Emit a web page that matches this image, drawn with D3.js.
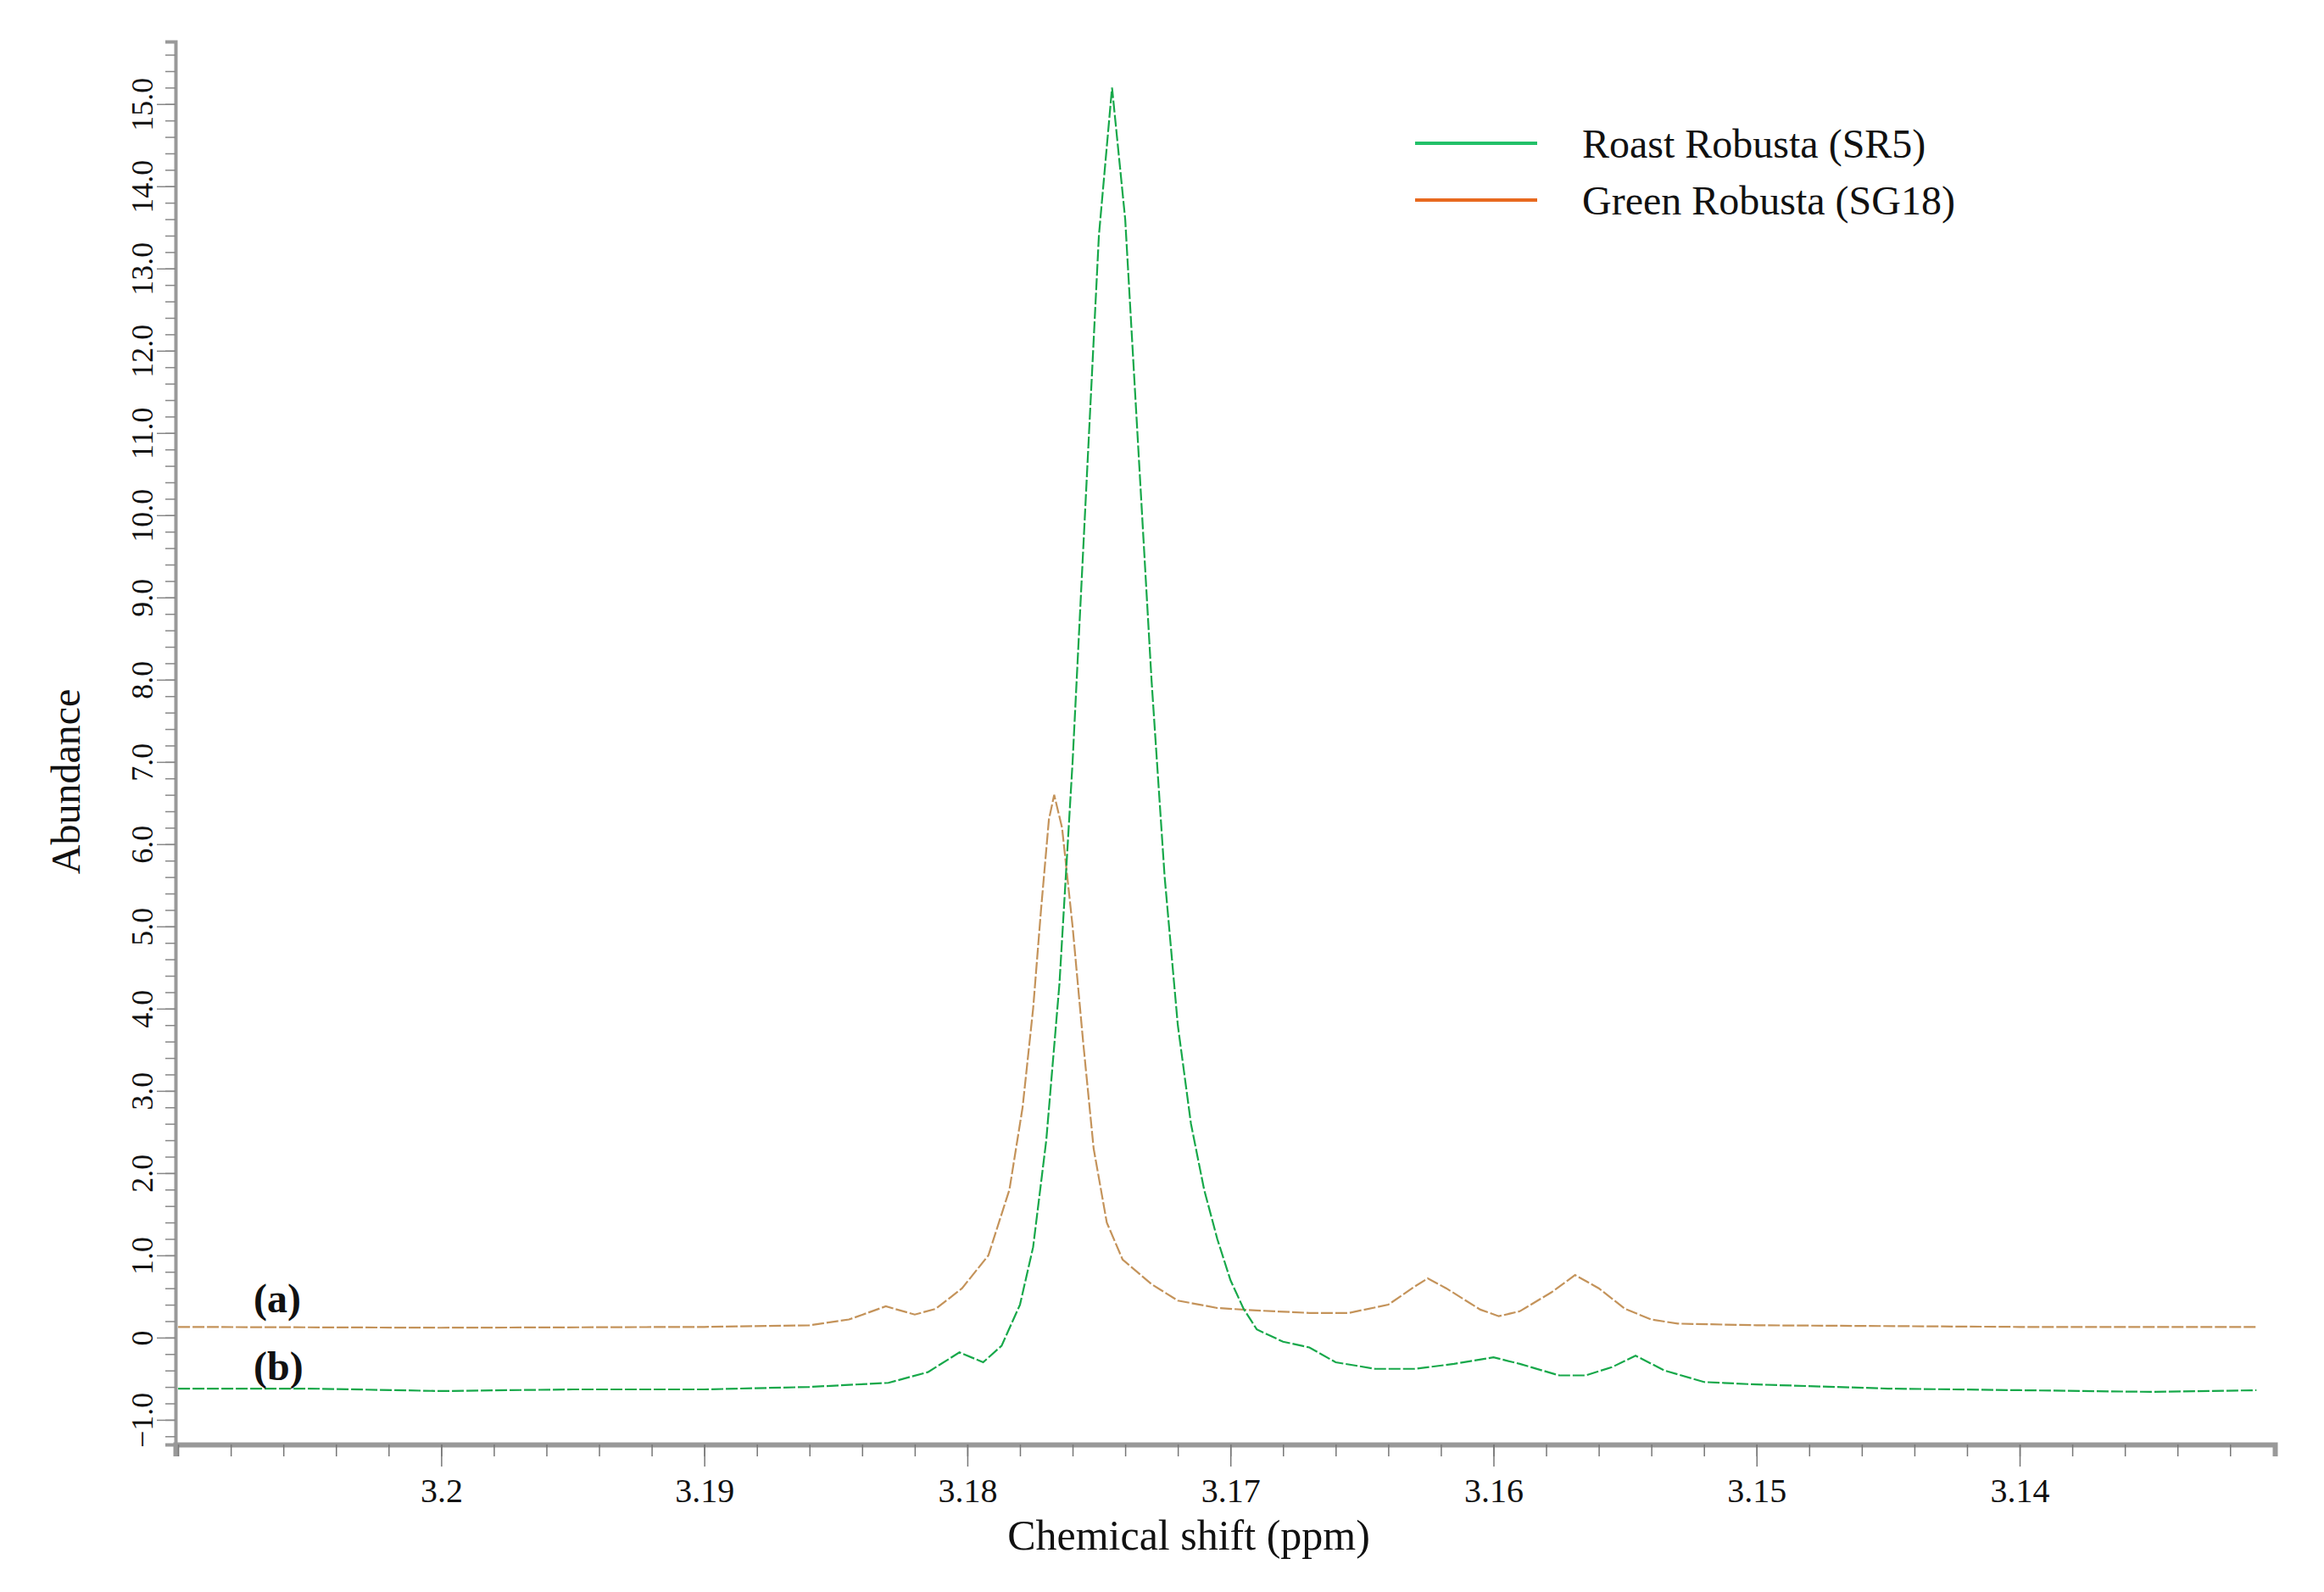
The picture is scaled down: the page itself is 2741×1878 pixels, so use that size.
<!DOCTYPE html>
<html>
<head>
<meta charset="utf-8">
<script src="https://cdn.jsdelivr.net/npm/d3@7"></script>
<style>
  body { margin: 0; background: #fff; }
  text { font-family: "Liberation Serif", "Times New Roman", serif; }
</style>
</head>
<body>
<div class="nmr"></div>
<script>
// Roast Robusta (SR5), trace (b)
var roastPpm = [3.2100, 3.2050, 3.2000, 3.1950, 3.1900, 3.1860, 3.1830, 3.1815, 3.1803, 3.1794,
  3.1787, 3.1780, 3.1775, 3.1770, 3.1765, 3.1760, 3.1755, 3.1750, 3.1745, 3.1740,
  3.1735, 3.1730, 3.1725, 3.1720, 3.1715, 3.1710, 3.1705, 3.1700, 3.1695, 3.1690,
  3.1680, 3.1670, 3.1660, 3.1645, 3.1630, 3.1615, 3.1600, 3.1590, 3.1575, 3.1565,
  3.1555, 3.1546, 3.1535, 3.1520, 3.1500, 3.1450, 3.1400, 3.1350, 3.1310];
var roastAbund = [-0.62, -0.62, -0.65, -0.63, -0.63, -0.60, -0.55, -0.42, -0.18, -0.30,
  -0.10, 0.40, 1.10, 2.40, 4.30, 7.00, 10.2, 13.4, 15.2, 13.6,
  10.8, 8.00, 5.60, 3.80, 2.60, 1.80, 1.20, 0.70, 0.35, 0.10,
  -0.05, -0.12, -0.30, -0.38, -0.38, -0.32, -0.24, -0.32, -0.46, -0.46,
  -0.36, -0.22, -0.40, -0.54, -0.57, -0.62, -0.64, -0.66, -0.64];

// Green Robusta (SG18), trace (a)
var greenPpm = [3.2100, 3.2000, 3.1900, 3.1860, 3.1845, 3.1831, 3.1820, 3.1812, 3.1802, 3.1792,
  3.1784, 3.1779, 3.1775, 3.1772, 3.1769, 3.1767, 3.1764, 3.1760, 3.1756, 3.1752,
  3.1747, 3.1741, 3.1730, 3.1720, 3.1705, 3.1690, 3.1670, 3.1655, 3.1640, 3.1630,
  3.1625, 3.1618, 3.1605, 3.1598, 3.1590, 3.1578, 3.1569, 3.1560, 3.1550, 3.1540,
  3.1530, 3.1500, 3.1400, 3.1310];
var greenAbund = [0.13, 0.12, 0.13, 0.15, 0.22, 0.38, 0.28, 0.35, 0.60, 1.00,
  1.80, 2.80, 4.00, 5.20, 6.30, 6.60, 6.20, 5.00, 3.60, 2.30,
  1.40, 0.95, 0.65, 0.45, 0.36, 0.33, 0.30, 0.30, 0.40, 0.62,
  0.72, 0.60, 0.34, 0.26, 0.32, 0.55, 0.76, 0.60, 0.35, 0.22,
  0.17, 0.15, 0.13, 0.13];

var xTicks = [3.2, 3.19, 3.18, 3.17, 3.16, 3.15, 3.14];
var yTicks = [-1, 0, 1, 2, 3, 4, 5, 6, 7, 8, 9, 10, 11, 12, 13, 14, 15];
var seriesNames = ["Roast Robusta (SR5)", "Green Robusta (SG18)"];

var W = 2741, H = 1878;
var margin = {top: 49, right: 58, bottom: 174, left: 207};
var width = W - margin.left - margin.right,
    height = H - margin.top - margin.bottom;

var x = d3.scaleLinear().domain([3.2101, 3.1303]).range([0, width]);
var y = d3.scaleLinear().domain([-1.3, 15.76]).range([height, 0]);

var svg = d3.select(".nmr").append("svg")
  .attr("width", W).attr("height", H);
var g = svg.append("g")
  .attr("transform", "translate(" + margin.left + "," + margin.top + ")");

// y axis
var yAxis = g.append("g")
  .call(d3.axisLeft(y).tickValues(d3.range(-1.2, 15.61, 0.2)).tickSize(12).tickFormat(""));
yAxis.select(".domain").attr("stroke", "#999").attr("stroke-width", 4);
yAxis.selectAll(".tick line").attr("stroke", "#888").attr("stroke-width", 1.5);
var yMajor = g.append("g")
  .call(d3.axisLeft(y).tickValues(yTicks).tickSize(22)
    .tickFormat(function(d) { return d === 0 ? "0" : d3.format(".1f")(d); }));
yMajor.select(".domain").remove();
yMajor.selectAll(".tick line").attr("stroke", "#888").attr("stroke-width", 1.5);
yMajor.selectAll(".tick text")
  .attr("transform", "rotate(-90)")
  .attr("x", 0).attr("y", -40)
  .attr("dy", "0.35em")
  .attr("text-anchor", "middle")
  .attr("font-size", 36)
  .attr("fill", "#111");

// x axis
var xAxis = g.append("g")
  .attr("transform", "translate(0," + height + ")")
  .call(d3.axisBottom(x).tickValues(d3.range(3.21, 3.1305, -0.002)).tickSize(14).tickFormat(""));
xAxis.select(".domain").attr("stroke", "#999").attr("stroke-width", 6);
xAxis.selectAll(".tick line").attr("stroke", "#777").attr("stroke-width", 1.5);
var xMajor = g.append("g")
  .attr("transform", "translate(0," + height + ")")
  .call(d3.axisBottom(x).tickValues(xTicks).tickSize(26).tickFormat(function(d) { return String(+d.toFixed(2)); }));
xMajor.select(".domain").remove();
xMajor.selectAll(".tick line").attr("stroke", "#777").attr("stroke-width", 1.5);
xMajor.selectAll(".tick text")
  .attr("y", 40)
  .attr("font-size", 40)
  .attr("fill", "#111");

// axis titles
svg.append("text")
  .attr("x", 1402).attr("y", 1828)
  .attr("text-anchor", "middle").attr("font-size", 50).attr("fill", "#111")
  .text("Chemical shift (ppm)");
svg.append("text")
  .attr("transform", "translate(94,922) rotate(-90)")
  .attr("text-anchor", "middle").attr("font-size", 48).attr("fill", "#111")
  .text("Abundance");

// spectra
var line = d3.line()
  .x(function(d) { return x(d[0]); })
  .y(function(d) { return y(d[1]); });

g.append("path")
  .datum(d3.zip(greenPpm, greenAbund))
  .attr("fill", "none")
  .attr("stroke", "#c4935a")
  .attr("stroke-width", 2.2)
  .attr("stroke-dasharray", "14,3")
  .attr("d", line);

g.append("path")
  .datum(d3.zip(roastPpm, roastAbund))
  .attr("fill", "none")
  .attr("stroke", "#17a84a")
  .attr("stroke-width", 2.2)
  .attr("stroke-dasharray", "14,3")
  .attr("d", line);

// trace labels
svg.append("text").attr("x", 299).attr("y", 1548)
  .attr("font-size", 48).attr("font-weight", "bold").attr("fill", "#111").text("(a)");
svg.append("text").attr("x", 299).attr("y", 1628)
  .attr("font-size", 48).attr("font-weight", "bold").attr("fill", "#111").text("(b)");

// legend
var legendColors = ["#22c069", "#e8691f"];
var legend = svg.append("g").attr("transform", "translate(1669,169)");
seriesNames.forEach(function(name, i) {
  legend.append("line")
    .attr("x1", 0).attr("x2", 144)
    .attr("y1", i * 67).attr("y2", i * 67)
    .attr("stroke", legendColors[i]).attr("stroke-width", 4);
  legend.append("text")
    .attr("x", 197).attr("y", i * 67)
    .attr("dy", "0.35em")
    .attr("font-size", 48).attr("fill", "#111")
    .text(name);
});
</script>
</body>
</html>
